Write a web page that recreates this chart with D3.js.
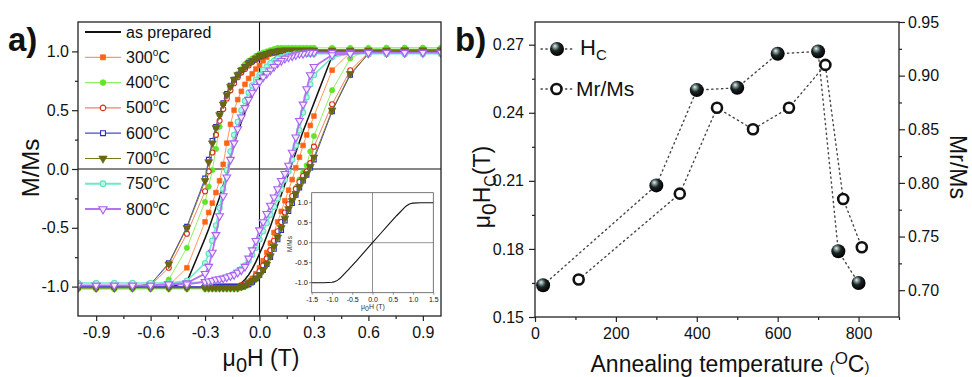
<!DOCTYPE html>
<html><head><meta charset="utf-8">
<script src="https://cdn.jsdelivr.net/npm/d3@7"></script>
<style>
body{margin:0;background:#fff}
svg{display:block}
text{font-family:"Liberation Sans",Arial,sans-serif;fill:#111}
</style>
</head><body>
<svg id="c" width="972" height="377"></svg>
<script>
// ---------------- DATA ----------------
const downField = [1.0,0.9,0.8,0.7,0.6,0.5,0.4,0.3,0.28,0.26,0.24,0.22,0.2,0.18,0.16,0.14,0.12,0.1,0.08,0.06,0.04,0.02,0,-0.02,-0.04,-0.06,-0.08,-0.1,-0.12,-0.14,-0.16,-0.18,-0.2,-0.22,-0.24,-0.26,-0.28,-0.3,-0.4,-0.5,-0.6,-0.7,-0.8,-0.9,-1.0];
const upField = [-1.0,-0.9,-0.8,-0.7,-0.6,-0.5,-0.4,-0.3,-0.28,-0.26,-0.24,-0.22,-0.2,-0.18,-0.16,-0.14,-0.12,-0.1,-0.08,-0.06,-0.04,-0.02,0,0.02,0.04,0.06,0.08,0.1,0.12,0.14,0.16,0.18,0.2,0.22,0.24,0.26,0.28,0.3,0.4,0.5,0.6,0.7,0.8,0.9,1.0];

const seriesLabels = ["as prepared","300","400","500","600","700","750","800"];

const asPreparedDown = [1.01,1.01,1.01,1.01,1.01,1.01,1.01,1.01,1.01,1.01,1.01,1.01,1.01,1.01,1.01,1.00,0.99,0.97,0.94,0.90,0.86,0.81,0.76,0.70,0.63,0.56,0.48,0.40,0.31,0.21,0.09,-0.04,-0.14,-0.24,-0.33,-0.42,-0.51,-0.59,-0.96,-1.01,-1.01,-1.01,-1.01,-1.01,-1.01];
const asPreparedUp = [-1.01,-1.01,-1.01,-1.01,-1.01,-1.01,-1.01,-1.01,-1.01,-1.01,-1.01,-1.01,-1.01,-1.01,-1.01,-1.00,-0.99,-0.97,-0.94,-0.90,-0.85,-0.79,-0.72,-0.65,-0.57,-0.49,-0.40,-0.31,-0.22,-0.13,-0.04,0.05,0.14,0.23,0.32,0.40,0.48,0.56,0.96,1.01,1.01,1.01,1.01,1.01,1.01];

const t300Down = [1.00,1.00,1.00,1.00,1.00,1.00,1.00,1.00,1.00,1.00,1.00,1.00,1.00,1.00,1.00,1.00,1.00,0.99,0.99,0.98,0.95,0.92,0.88,0.85,0.81,0.77,0.72,0.66,0.59,0.50,0.38,0.22,0.04,-0.10,-0.20,-0.29,-0.37,-0.45,-0.84,-0.99,-1.00,-1.00,-1.00,-1.00,-1.00];
const t300Up = [-1.00,-1.00,-1.00,-1.00,-1.00,-1.00,-1.00,-1.00,-1.00,-1.00,-1.00,-1.00,-1.00,-1.00,-1.00,-1.00,-1.00,-0.99,-0.98,-0.96,-0.93,-0.89,-0.84,-0.78,-0.71,-0.63,-0.54,-0.45,-0.36,-0.27,-0.18,-0.09,0.01,0.10,0.20,0.29,0.37,0.45,0.84,0.99,1.00,1.00,1.00,1.00,1.00];

const t400Down = [1.03,1.03,1.03,1.03,1.03,1.03,1.03,1.03,1.03,1.03,1.03,1.03,1.03,1.03,1.03,1.03,1.03,1.03,1.02,1.01,1.00,0.99,0.98,0.96,0.94,0.92,0.89,0.85,0.81,0.76,0.70,0.62,0.51,0.36,0.17,-0.01,-0.15,-0.28,-0.67,-0.94,-1.01,-1.02,-1.02,-1.02,-1.02];
const t400Up = [-1.02,-1.02,-1.02,-1.02,-1.02,-1.02,-1.02,-1.02,-1.02,-1.02,-1.02,-1.02,-1.02,-1.02,-1.02,-1.02,-1.02,-1.01,-1.00,-0.99,-0.97,-0.94,-0.90,-0.85,-0.79,-0.72,-0.64,-0.55,-0.46,-0.38,-0.30,-0.23,-0.16,-0.09,-0.03,0.03,0.15,0.28,0.67,0.94,1.02,1.03,1.03,1.03,1.03];

const t500Down = [1.00,1.00,1.00,1.00,1.00,1.00,1.00,1.00,1.00,1.00,1.00,1.00,1.00,1.00,1.00,1.00,1.00,1.00,0.99,0.99,0.98,0.96,0.95,0.93,0.91,0.88,0.85,0.82,0.78,0.73,0.67,0.60,0.51,0.41,0.29,0.14,-0.02,-0.19,-0.55,-0.84,-0.99,-1.00,-1.00,-1.00,-1.00];
const t500Up = [-1.00,-1.00,-1.00,-1.00,-1.00,-1.00,-1.00,-1.00,-1.00,-1.00,-1.00,-1.00,-1.00,-1.00,-1.00,-1.00,-1.00,-0.99,-0.98,-0.97,-0.95,-0.91,-0.87,-0.82,-0.76,-0.69,-0.61,-0.53,-0.45,-0.37,-0.30,-0.23,-0.17,-0.11,-0.06,-0.02,0.05,0.19,0.55,0.84,0.99,1.00,1.00,1.00,1.00];

const t600Down = [1.00,1.00,1.00,1.00,1.00,1.00,1.00,1.00,1.00,1.00,1.00,1.00,1.00,1.00,1.00,1.00,1.00,1.00,0.99,0.99,0.98,0.97,0.96,0.94,0.92,0.90,0.87,0.84,0.80,0.76,0.71,0.64,0.56,0.47,0.36,0.24,0.08,-0.08,-0.49,-0.80,-0.98,-1.00,-1.00,-1.00,-1.00];
const t600Up = [-1.00,-1.00,-1.00,-1.00,-1.00,-1.00,-1.00,-1.00,-1.00,-1.00,-1.00,-1.00,-1.00,-1.00,-1.00,-1.00,-1.00,-1.00,-0.99,-0.98,-0.96,-0.93,-0.90,-0.86,-0.81,-0.75,-0.68,-0.60,-0.52,-0.44,-0.36,-0.29,-0.22,-0.16,-0.10,-0.05,0.01,0.08,0.49,0.80,0.98,1.00,1.00,1.00,1.00];

const t700Down = [1.01,1.01,1.01,1.01,1.01,1.01,1.01,1.01,1.01,1.01,1.01,1.01,1.01,1.01,1.01,1.01,1.01,1.00,1.00,0.99,0.98,0.97,0.96,0.94,0.92,0.90,0.87,0.84,0.80,0.76,0.70,0.63,0.55,0.46,0.35,0.22,0.06,-0.10,-0.50,-0.81,-0.98,-1.00,-1.01,-1.01,-1.01];
const t700Up = [-1.01,-1.01,-1.01,-1.01,-1.01,-1.01,-1.01,-1.01,-1.01,-1.01,-1.01,-1.01,-1.01,-1.01,-1.01,-1.01,-1.01,-1.00,-0.99,-0.97,-0.95,-0.93,-0.90,-0.86,-0.81,-0.74,-0.66,-0.58,-0.50,-0.42,-0.34,-0.27,-0.21,-0.15,-0.09,-0.04,0.02,0.10,0.50,0.81,0.98,1.00,1.01,1.01,1.01];

const t750Down = [0.98,0.98,0.98,0.98,0.98,0.98,0.98,0.98,0.98,0.98,0.98,0.98,0.98,0.97,0.97,0.96,0.95,0.94,0.92,0.90,0.87,0.84,0.80,0.76,0.71,0.65,0.58,0.50,0.40,0.29,0.15,-0.01,-0.17,-0.33,-0.48,-0.61,-0.72,-0.80,-0.95,-0.97,-0.97,-0.97,-0.97,-0.97,-0.97];
const t750Up = [-0.97,-0.97,-0.97,-0.97,-0.97,-0.97,-0.97,-0.96,-0.96,-0.95,-0.95,-0.94,-0.93,-0.92,-0.91,-0.89,-0.87,-0.85,-0.82,-0.78,-0.73,-0.67,-0.60,-0.53,-0.46,-0.39,-0.32,-0.25,-0.17,-0.09,-0.02,0.08,0.20,0.33,0.48,0.61,0.72,0.80,0.95,0.98,0.98,0.98,0.98,0.98,0.98];

const t800Down = [0.99,0.99,0.99,0.99,0.99,0.99,0.99,0.99,0.99,0.99,0.98,0.98,0.97,0.96,0.95,0.94,0.92,0.90,0.87,0.84,0.81,0.78,0.74,0.70,0.65,0.59,0.52,0.44,0.34,0.22,0.08,-0.07,-0.23,-0.40,-0.56,-0.71,-0.83,-0.89,-0.97,-0.98,-0.99,-0.99,-0.99,-0.99,-0.99];
const t800Up = [-0.99,-0.99,-0.99,-0.99,-0.99,-0.98,-0.98,-0.96,-0.955,-0.95,-0.94,-0.935,-0.93,-0.92,-0.91,-0.90,-0.88,-0.86,-0.83,-0.76,-0.69,-0.61,-0.52,-0.45,-0.38,-0.31,-0.24,-0.17,-0.10,-0.04,0.03,0.14,0.27,0.41,0.55,0.68,0.80,0.87,0.97,0.98,0.99,0.99,0.99,0.99,0.99];

const insetField = [-1.5,-1.2,-1.0,-0.95,-0.9,-0.85,-0.8,-0.6,-0.4,-0.2,0,0.2,0.4,0.6,0.8,0.85,0.9,0.95,1.0,1.2,1.5];
const insetM = [-1.0,-1.0,-0.99,-0.98,-0.96,-0.93,-0.89,-0.68,-0.46,-0.23,0,0.23,0.46,0.68,0.89,0.93,0.96,0.98,0.99,1.0,1.0];

const hcTemp = [20,300,400,500,600,700,750,800];
const hcValues = [0.164,0.208,0.250,0.251,0.266,0.267,0.179,0.165];
const mrTemp = [108,358,450,539,628,718,762,808];
const mrValues = [0.710,0.790,0.870,0.850,0.870,0.910,0.785,0.740];

const aXTicks = [-0.9,-0.6,-0.3,0,0.3,0.6,0.9];
const aXMinor = [-0.75,-0.45,-0.15,0.15,0.45,0.75];
const aYTicks = [-1.0,-0.5,0,0.5,1.0];
const aYMinor = [-0.75,-0.25,0.25,0.75];
const bXTicks = [0,200,400,600,800];
const bXMinor = [100,300,500,700,900];
const bLTicks = [0.15,0.18,0.21,0.24,0.27];
const bLMinor = [0.165,0.195,0.225,0.255];
const bRTicks = [0.70,0.75,0.80,0.85,0.90,0.95];
const bRMinor = [0.725,0.775,0.825,0.875,0.925];
const inXTicks = [-1.5,-1.0,-0.5,0,0.5,1.0,1.5];
const inYTicks = [-1.0,-0.5,0,0.5,1.0];

// ---------------- DRAW ----------------
const svg = d3.select("#c");
const defs = svg.append("defs");
const FONT = "Liberation Sans, Arial, sans-serif";

const styles = [
  {down:asPreparedDown, up:asPreparedUp, line:"#111", lw:1.5, sym:null},
  {down:t300Down, up:t300Up, line:"#ff9a5c", lw:1, sym:d3.symbolSquare, size:22, fill:"#ff6414", stroke:"#ff6414", rot:0},
  {down:t400Down, up:t400Up, line:"#8ef06a", lw:1, sym:d3.symbolCircle, size:22, fill:"#62e42a", stroke:"#62e42a", rot:0},
  {down:t500Down, up:t500Up, line:"#f0806e", lw:1, sym:d3.symbolCircle, size:20, fill:"#fff", stroke:"#e2281a", rot:0, sw:1.1},
  {down:t600Down, up:t600Up, line:"#4a4ad2", lw:1, sym:d3.symbolSquare, size:20, fill:"#fff", stroke:"#2d2dc0", rot:0, sw:1.1},
  {down:t700Down, up:t700Up, line:"#7a7a18", lw:1, sym:d3.symbolTriangle, size:26, fill:"#686810", stroke:"#686810", rot:180},
  {down:t750Down, up:t750Up, line:"#6ceac6", lw:1.6, sym:d3.symbolCircle, size:22, fill:"#b4f7e4", stroke:"#5fe2bd", rot:0, sw:1.1},
  {down:t800Down, up:t800Up, line:"#b374f2", lw:1.8, sym:d3.symbolTriangle, size:26, fill:"#f4eaff", stroke:"#a860ee", rot:180, sw:1.1}
];

// ---- Panel a ----
const ax = d3.scaleLinear().domain([-1,1]).range([78,441]);
const ay = d3.scaleLinear().domain([-1.25,1.25]).range([316,22]);

defs.append("clipPath").attr("id","clipA").append("rect")
  .attr("x",78).attr("y",22).attr("width",363).attr("height",294);

const gA = svg.append("g");
const fmt1 = v => v.toFixed(1);

gA.append("g").attr("transform","translate(0,316)")
  .call(d3.axisBottom(ax).tickValues(aXTicks).tickFormat(fmt1).tickSize(5).tickPadding(6).tickSizeOuter(0));
gA.append("g").attr("transform","translate(0,316)")
  .call(d3.axisBottom(ax).tickValues(aXMinor).tickFormat("").tickSize(3).tickSizeOuter(0));
gA.append("g").attr("transform","translate(78,0)")
  .call(d3.axisLeft(ay).tickValues(aYTicks).tickFormat(fmt1).tickSize(6).tickPadding(3).tickSizeOuter(0));
gA.append("g").attr("transform","translate(78,0)")
  .call(d3.axisLeft(ay).tickValues(aYMinor).tickFormat("").tickSize(3).tickSizeOuter(0));
gA.selectAll(".domain").remove();
gA.selectAll(".tick line").attr("stroke","#222").attr("stroke-width",1.2);
gA.selectAll(".tick text").attr("font-size",16).attr("font-family",FONT).attr("fill","#111");

gA.append("line").attr("x1",ax(-1)).attr("x2",ax(1)).attr("y1",ay(0)).attr("y2",ay(0)).attr("stroke","#111").attr("stroke-width",1.1);
gA.append("line").attr("x1",ax(0)).attr("x2",ax(0)).attr("y1",ay(1.25)).attr("y2",ay(-1.25)).attr("stroke","#111").attr("stroke-width",1.1);

const curvesG = gA.append("g").attr("clip-path","url(#clipA)");
const lineGen = d3.line().x(d=>ax(d[0])).y(d=>ay(d[1]));
styles.forEach(s=>{
  const pts = downField.map((h,i)=>[h,s.down[i]]).concat(upField.map((h,i)=>[h,s.up[i]]));
  curvesG.append("path").attr("d",lineGen(pts)).attr("fill","none")
    .attr("stroke",s.line).attr("stroke-width",s.lw).attr("stroke-linejoin","round");
  if(s.sym){
    const sym = d3.symbol().type(s.sym).size(s.size)();
    curvesG.append("g").selectAll("path").data(pts).join("path")
      .attr("d",sym)
      .attr("transform",d=>`translate(${ax(d[0])},${ay(d[1])}) rotate(${s.rot})`)
      .attr("fill",s.fill).attr("stroke",s.stroke).attr("stroke-width",s.sw||0.7);
  }
});

gA.append("rect").attr("x",78).attr("y",22).attr("width",363).attr("height",294)
  .attr("fill","none").attr("stroke","#222").attr("stroke-width",1.3);

const legG = gA.append("g");
styles.forEach((s,i)=>{
  const y = 32 + i*25.3;
  legG.append("line").attr("x1",85).attr("x2",121).attr("y1",y).attr("y2",y)
    .attr("stroke", s.line).attr("stroke-width", i===0?1.8:(i>=6?2:1.2));
  if(s.sym){
    legG.append("path").attr("d",d3.symbol().type(s.sym).size(s.size+4)())
      .attr("transform",`translate(103,${y}) rotate(${s.rot})`)
      .attr("fill",s.fill).attr("stroke",s.stroke).attr("stroke-width",s.sw||0.7);
  }
  const t = legG.append("text").attr("x",126).attr("y",y+5.5).attr("font-size",16);
  if(i===0){ t.text(seriesLabels[i]); }
  else {
    t.append("tspan").text(seriesLabels[i]);
    t.append("tspan").attr("font-size",10).attr("dy",-7).text("o");
    t.append("tspan").attr("dy",7).text("C");
  }
});

const xtA = gA.append("text").attr("x",261).attr("y",366).attr("text-anchor","middle").attr("font-size",23);
xtA.append("tspan").text("\u03bc");
xtA.append("tspan").attr("font-size",20).attr("dy",6).text("0");
xtA.append("tspan").attr("dy",-6).text("H (T)");
gA.append("text").attr("transform","translate(39,168) rotate(-90)").attr("text-anchor","middle")
  .attr("font-size",24).text("M/Ms");
gA.append("text").attr("x",8).attr("y",51).attr("font-size",33).attr("font-weight","bold").text("a)");

// ---- Inset ----
const ix = d3.scaleLinear().domain([-1.5,1.5]).range([311.7,433.3]);
const iy = d3.scaleLinear().domain([-1.25,1.25]).range([292.7,192.7]);
const gI = svg.append("g");
gI.append("rect").attr("x",311.7).attr("y",192.7).attr("width",121.6).attr("height",100).attr("fill","#fff");
const ixAxis = gI.append("g").attr("transform","translate(0,292.7)")
  .call(d3.axisBottom(ix).tickValues(inXTicks).tickFormat(fmt1).tickSize(2).tickPadding(2).tickSizeOuter(0));
ixAxis.select(".domain").remove();
ixAxis.selectAll(".tick line").attr("stroke","#666").attr("stroke-width",0.7);
ixAxis.selectAll("text").attr("font-size",7).attr("font-family",FONT).attr("fill","#222");
gI.append("line").attr("x1",ix(-1.5)).attr("x2",ix(1.5)).attr("y1",iy(0)).attr("y2",iy(0)).attr("stroke","#777").attr("stroke-width",0.8);
gI.append("line").attr("x1",ix(0)).attr("x2",ix(0)).attr("y1",iy(1.25)).attr("y2",iy(-1.25)).attr("stroke","#777").attr("stroke-width",0.8);
gI.append("path").attr("d",d3.line().x(d=>ix(d[0])).y(d=>iy(d[1]))(insetField.map((h,i)=>[h,insetM[i]])))
  .attr("fill","none").attr("stroke","#111").attr("stroke-width",1.1);
gI.append("rect").attr("x",311.7).attr("y",192.7).attr("width",121.6).attr("height",100)
  .attr("fill","none").attr("stroke","#555").attr("stroke-width",0.8);
gI.append("text").attr("transform","translate(292,244) rotate(-90)").attr("text-anchor","middle")
  .attr("font-size",6.5).style("fill","#333").text("M/Ms");
const xtI = gI.append("text").attr("x",373).attr("y",309).attr("text-anchor","middle").attr("font-size",7).style("fill","#333");
xtI.append("tspan").text("\u03bc");
xtI.append("tspan").attr("dy",2).text("0");
xtI.append("tspan").attr("dy",-2).text("H (T)");

// ---- Panel b ----
const bx = d3.scaleLinear().domain([0,900]).range([535,899]);
const byL = d3.scaleLinear().domain([0.15,0.28]).range([317,22]);
const byR = d3.scaleLinear().domain([0.675,0.95]).range([317,22]);
const gB = svg.append("g");
const fmt2 = v => v.toFixed(2);

gB.append("g").attr("transform","translate(0,317)")
  .call(d3.axisBottom(bx).tickValues(bXTicks).tickFormat(d3.format("d")).tickSize(5).tickPadding(6).tickSizeOuter(0));
gB.append("g").attr("transform","translate(0,317)")
  .call(d3.axisBottom(bx).tickValues(bXMinor).tickFormat("").tickSize(3).tickSizeOuter(0));
gB.append("g").attr("transform","translate(535,0)")
  .call(d3.axisLeft(byL).tickValues(bLTicks).tickFormat(fmt2).tickSize(6).tickPadding(5).tickSizeOuter(0));
gB.append("g").attr("transform","translate(535,0)")
  .call(d3.axisLeft(byL).tickValues(bLMinor).tickFormat("").tickSize(3).tickSizeOuter(0));
gB.append("g").attr("transform","translate(899,0)")
  .call(d3.axisRight(byR).tickValues(bRTicks).tickFormat(fmt2).tickSize(6).tickPadding(3).tickSizeOuter(0));
gB.append("g").attr("transform","translate(899,0)")
  .call(d3.axisRight(byR).tickValues(bRMinor).tickFormat("").tickSize(3).tickSizeOuter(0));
gB.selectAll(".domain").remove();
gB.selectAll(".tick line").attr("stroke","#222").attr("stroke-width",1.2);
gB.selectAll(".tick text").attr("font-size",16).attr("font-family",FONT).attr("fill","#111");

gB.append("rect").attr("x",535).attr("y",22).attr("width",364).attr("height",295)
  .attr("fill","none").attr("stroke","#222").attr("stroke-width",1.3);

const grad = defs.append("radialGradient").attr("id","sphere")
  .attr("cx","0.42").attr("cy","0.38").attr("r","0.62").attr("fx","0.35").attr("fy","0.28");
grad.append("stop").attr("offset","0").attr("stop-color","#e6f6f4");
grad.append("stop").attr("offset","0.18").attr("stop-color","#8fa8a6");
grad.append("stop").attr("offset","0.5").attr("stop-color","#1c2424");
grad.append("stop").attr("offset","1").attr("stop-color","#000");

const dotted = {stroke:"#444", w:1.4, dash:"1.3,3.6"};
gB.append("path").attr("d",d3.line().x(d=>bx(d[0])).y(d=>byL(d[1]))(hcTemp.map((t,i)=>[t,hcValues[i]])))
  .attr("fill","none").attr("stroke",dotted.stroke).attr("stroke-width",dotted.w).attr("stroke-dasharray",dotted.dash).attr("stroke-linecap","round");
gB.append("path").attr("d",d3.line().x(d=>bx(d[0])).y(d=>byR(d[1]))(mrTemp.map((t,i)=>[t,mrValues[i]])))
  .attr("fill","none").attr("stroke",dotted.stroke).attr("stroke-width",dotted.w).attr("stroke-dasharray",dotted.dash).attr("stroke-linecap","round");

gB.selectAll("circle.hc").data(hcTemp).join("circle").attr("class","hc")
  .attr("cx",(t)=>bx(t)).attr("cy",(t,i)=>byL(hcValues[i])).attr("r",7)
  .attr("fill","url(#sphere)");
gB.selectAll("circle.mr").data(mrTemp).join("circle").attr("class","mr")
  .attr("cx",(t)=>bx(t)).attr("cy",(t,i)=>byR(mrValues[i])).attr("r",5)
  .attr("fill","#fff").attr("stroke","#111").attr("stroke-width",2.6);

gB.append("line").attr("x1",541).attr("x2",575).attr("y1",49).attr("y2",49)
  .attr("stroke",dotted.stroke).attr("stroke-width",dotted.w).attr("stroke-dasharray",dotted.dash).attr("stroke-linecap","round");
gB.append("circle").attr("cx",557).attr("cy",49).attr("r",7).attr("fill","url(#sphere)");
const hcT = gB.append("text").attr("x",580).attr("y",55).attr("font-size",22);
hcT.append("tspan").text("H");
hcT.append("tspan").attr("font-size",15).attr("dy",5).text("C");
gB.append("line").attr("x1",541).attr("x2",575).attr("y1",89).attr("y2",89)
  .attr("stroke",dotted.stroke).attr("stroke-width",dotted.w).attr("stroke-dasharray",dotted.dash).attr("stroke-linecap","round");
gB.append("circle").attr("cx",556.5).attr("cy",89).attr("r",5).attr("fill","#fff").attr("stroke","#111").attr("stroke-width",2.6);
gB.append("text").attr("x",576).attr("y",96).attr("font-size",21).text("Mr/Ms");

const xtB = gB.append("text").attr("x",730).attr("y",372).attr("text-anchor","middle").attr("font-size",23);
xtB.append("tspan").text("Annealing temperature ");
xtB.append("tspan").attr("font-size",15).text("(");
xtB.append("tspan").attr("font-size",17).attr("dy",-8).text("O");
xtB.append("tspan").attr("dy",8).text("C");
xtB.append("tspan").attr("font-size",15).text(")");

const ytB = gB.append("text").attr("transform","translate(490,187) rotate(-90)").attr("text-anchor","middle").attr("font-size",23);
ytB.append("tspan").text("\u03bc");
ytB.append("tspan").attr("font-size",21).attr("dy",6).text("0");
ytB.append("tspan").attr("dy",-6).text("H");
ytB.append("tspan").attr("font-size",16).attr("dy",6).text("C");
ytB.append("tspan").attr("dy",-6).text("(T)");

gB.append("text").attr("transform","translate(950,167) rotate(90)").attr("text-anchor","middle")
  .attr("font-size",23).text("Mr/Ms");
gB.append("text").attr("x",455).attr("y",51).attr("font-size",33).attr("font-weight","bold").text("b)");

// inset left ticks and labels, drawn last so nothing covers them
const gIY = svg.append("g");
gIY.selectAll("line").data(inYTicks).join("line")
  .attr("x1",309.2).attr("x2",311.7).attr("y1",d=>iy(d)).attr("y2",d=>iy(d))
  .attr("stroke","#555").attr("stroke-width",0.8);
gIY.selectAll("text").data(inYTicks).join("text")
  .attr("x",308).attr("y",d=>iy(d)+2.6).attr("text-anchor","end")
  .attr("font-size",7.5).style("font-family",FONT).style("fill","#111").text(d=>d.toFixed(1));
</script>
</body></html>
